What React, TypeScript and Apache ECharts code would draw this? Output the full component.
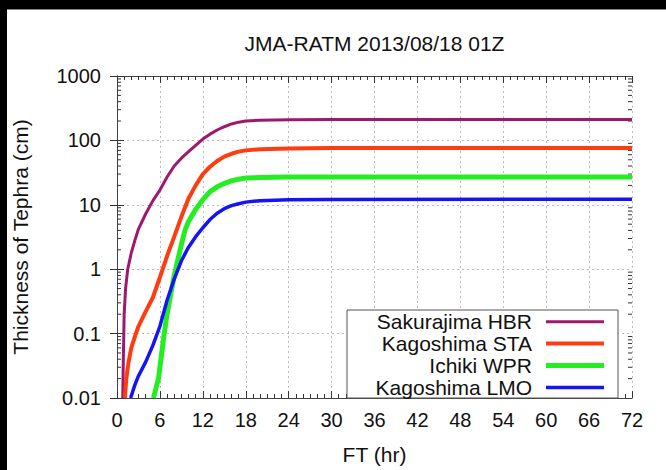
import React, { useEffect, useRef } from "react";
import * as echarts from "echarts";

const TITLE = "JMA-RATM 2013/08/18 01Z";
const X_NAME = "FT (hr)";
const Y_NAME = "Thickness of Tephra (cm)";
const SERIES_NAMES = ["Sakurajima HBR", "Kagoshima STA", "Ichiki WPR", "Kagoshima LMO"];
const SERIES_COLORS = ["#a0186e", "#ff3c0f", "#22ee22", "#1414f5"];
const SERIES_WIDTHS = [3, 4, 5, 3.5];

const hbrHours = [0.8, 0.9, 1.0, 1.2, 1.5, 2, 2.5, 3, 4, 5, 6, 7, 8, 9, 10, 11, 12, 13, 14, 15, 16, 17, 18, 20, 24, 30, 72];
const hbrValues = [0.01, 0.05, 0.2, 0.5, 1.0, 1.8, 2.8, 4.2, 7.2, 11.5, 17, 27, 40, 53, 67, 84, 105, 125, 145, 163, 180, 192, 200, 206, 210, 211, 212];

const staHours = [1.1, 1.3, 1.6, 2, 2.5, 3, 4, 5, 6, 7, 8, 9, 10, 11, 12, 13, 14, 15, 16, 17, 18, 20, 24, 30, 72];
const staValues = [0.01, 0.02, 0.035, 0.06, 0.09, 0.13, 0.22, 0.36, 0.75, 1.6, 3.2, 6.5, 12.5, 20, 30, 39, 48, 56, 62, 67, 70, 73, 75, 76, 76];

const wprHours = [5.1, 5.5, 5.8, 6.2, 6.6, 7, 7.5, 8, 8.5, 9, 9.5, 10, 11, 12, 13, 14, 15, 16, 17, 18, 20, 24, 72];
const wprValues = [0.01, 0.015, 0.02, 0.045, 0.1, 0.2, 0.4, 0.8, 1.4, 2.4, 4, 5.5, 8.5, 12, 16, 19, 21.5, 23.5, 25, 26, 26.5, 27, 27];

const lmoHours = [1.9, 2.5, 3, 4, 5, 6, 7, 8, 9, 10, 11, 12, 13, 14, 15, 16, 17, 18, 20, 24, 30, 72];
const lmoValues = [0.01, 0.016, 0.022, 0.036, 0.065, 0.13, 0.33, 0.7, 1.35, 2.2, 3.2, 4.4, 5.9, 7.4, 8.7, 9.7, 10.4, 11, 11.6, 12, 12.1, 12.2];

const SERIES_HOURS = [hbrHours, staHours, wprHours, lmoHours];
const SERIES_VALUES = [hbrValues, staValues, wprValues, lmoValues];

const X_MIN = 0;
const X_MAX = 72;
const X_INTERVAL = 6;
const Y_MIN = 0.01;
const Y_MAX = 1000;
const Y_DECADES = [-2, -1, 0, 1, 2];
const Y_MINOR_MULTS = [2, 3, 4, 5, 6, 7, 8, 9];

const FONT = "'Liberation Sans', Arial, Helvetica, sans-serif";

export default function App() {
  const ref = useRef<HTMLDivElement>(null);

  useEffect(() => {
    if (!ref.current) return;
    const chart = echarts.init(ref.current, null, { renderer: "svg" });

    const minorVals: number[][] = [];
    Y_DECADES.forEach((d) => {
      Y_MINOR_MULTS.forEach((m) => {
        minorVals.push([X_MIN, m * Math.pow(10, d)]);
      });
    });

    const lineSeries = SERIES_NAMES.map((name, i) => ({
      name,
      type: "line",
      xAxisIndex: 0,
      yAxisIndex: 0,
      showSymbol: false,
      symbol: "none",
      smooth: false,
      z: 5,
      lineStyle: { color: SERIES_COLORS[i], width: SERIES_WIDTHS[i] },
      itemStyle: { color: SERIES_COLORS[i] },
      data: SERIES_HOURS[i].map((h, k) => [h, SERIES_VALUES[i][k]]),
    }));

    const minorTickSeries = {
      type: "custom",
      xAxisIndex: 0,
      yAxisIndex: 0,
      silent: true,
      clip: false,
      z: 3,
      data: minorVals,
      renderItem: (params: any, api: any) => {
        const v = api.value(1);
        const p = api.coord([X_MIN, v]);
        const q = api.coord([X_MAX, v]);
        const st = { stroke: "#333", lineWidth: 1 };
        return {
          type: "group",
          children: [
            { type: "line", shape: { x1: p[0], y1: p[1], x2: p[0] + 4, y2: p[1] }, style: st },
            { type: "line", shape: { x1: q[0], y1: q[1], x2: q[0] - 4, y2: q[1] }, style: st },
          ],
        };
      },
    };

    const baseX = {
      type: "value",
      min: X_MIN,
      max: X_MAX,
      interval: X_INTERVAL,
      axisLine: { show: true, lineStyle: { color: "#444", width: 1 } },
      axisTick: { show: true, inside: true, length: 7, lineStyle: { color: "#333" } },
      minorTick: { show: true, splitNumber: 6, length: 4, lineStyle: { color: "#333" } },
    };
    const baseY = {
      type: "log",
      logBase: 10,
      min: Y_MIN,
      max: Y_MAX,
      axisLine: { show: true, lineStyle: { color: "#444", width: 1 } },
      axisTick: { show: true, inside: true, length: 7, lineStyle: { color: "#333" } },
    };

    const legendX0 = 347;
    const legendY0 = 310;
    const legendRowH = 21.9;
    const legendChildren: any[] = [
      {
        type: "rect",
        shape: { x: legendX0, y: legendY0, width: 271, height: 88 },
        style: { fill: "#fff", stroke: "#555", lineWidth: 1 },
        z: 10,
      },
    ];
    SERIES_NAMES.forEach((name, i) => {
      const cy = legendY0 + 11.7 + i * legendRowH;
      legendChildren.push({
        type: "text",
        x: 532,
        y: cy,
        z: 11,
        style: {
          text: name,
          textAlign: "right",
          textVerticalAlign: "middle",
          font: `21px ${FONT}`,
          fill: "#111",
        },
      });
      legendChildren.push({
        type: "line",
        z: 11,
        shape: { x1: 546, y1: cy, x2: 604, y2: cy },
        style: { stroke: SERIES_COLORS[i], lineWidth: SERIES_WIDTHS[i] },
      });
    });

    chart.setOption({
      animation: false,
      backgroundColor: "#fff",
      grid: { left: 117, top: 76, right: 34, bottom: 66, show: false },
      xAxis: [
        {
          ...baseX,
          position: "bottom",
          name: X_NAME,
          nameLocation: "middle",
          nameGap: 46,
          nameTextStyle: { fontSize: 21, color: "#111", fontFamily: FONT },
          axisLabel: { show: true, margin: 12, fontSize: 20, color: "#111", fontFamily: FONT },
          splitLine: { show: true, lineStyle: { color: "#bbb", type: [2, 3], width: 1 } },
        },
        {
          ...baseX,
          position: "top",
          axisLabel: { show: false },
          splitLine: { show: false },
        },
      ],
      yAxis: [
        {
          ...baseY,
          position: "left",
          name: Y_NAME,
          nameLocation: "middle",
          nameGap: 86,
          nameRotate: 90,
          nameTextStyle: { fontSize: 21, color: "#111", fontFamily: FONT },
          axisLabel: {
            show: true,
            margin: 16,
            fontSize: 20,
            color: "#111",
            fontFamily: FONT,
            formatter: (v: number) => String(+Number(v).toPrecision(3)),
          },
          splitLine: { show: true, lineStyle: { color: "#bbb", type: [2, 3], width: 1 } },
        },
        {
          ...baseY,
          position: "right",
          axisLabel: { show: false },
          splitLine: { show: false },
        },
      ],
      series: [minorTickSeries, ...lineSeries],
      graphic: [
        { type: "rect", shape: { x: 0, y: 0, width: 666, height: 9 }, style: { fill: "#000" }, z: 20 },
        { type: "rect", shape: { x: 0, y: 0, width: 7, height: 470 }, style: { fill: "#000" }, z: 20 },
        { type: "line", shape: { x1: 7, y1: 9.5, x2: 666, y2: 9.5 }, style: { stroke: "#888", lineWidth: 1 }, z: 20 },
        {
          type: "text",
          x: 374.5,
          y: 43.5,
          z: 20,
          style: {
            text: TITLE,
            textAlign: "center",
            textVerticalAlign: "middle",
            font: `21px ${FONT}`,
            fill: "#111",
          },
        },
        { type: "group", children: legendChildren },
      ],
    });

    return () => {
      chart.dispose();
    };
  }, []);

  return (
    <div
      ref={ref}
      style={{ position: "absolute", left: 0, top: 0, width: 666, height: 470 }}
    />
  );
}
